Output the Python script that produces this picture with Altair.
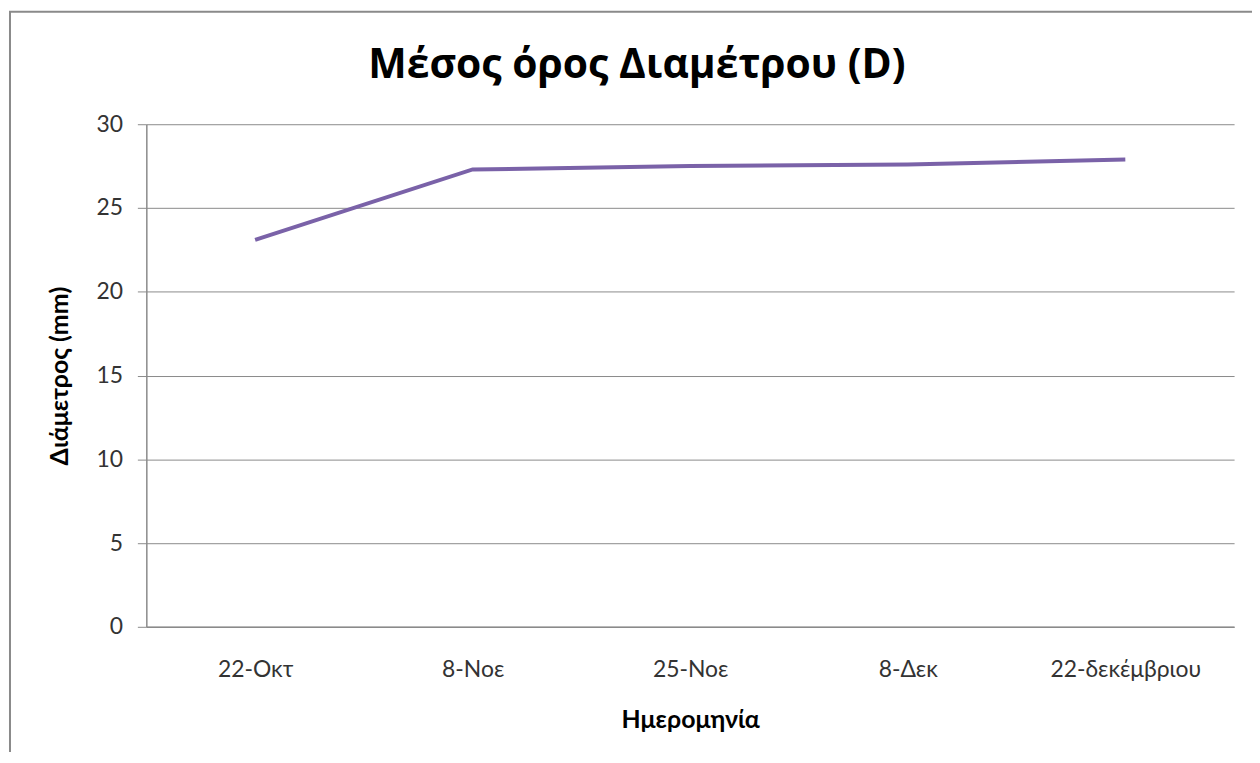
import altair as alt
import pandas as pd

dates = ["22-Οκτ", "8-Νοε", "25-Νοε", "8-Δεκ", "22-δεκέμβριου"]
diameter = [23.1, 27.3, 27.5, 27.6, 27.9]
title_text = ["Μέσος όρος Διαμέτρου (D)"]

df = pd.DataFrame({"date": dates, "d": diameter})

FONT = "Lato"

line = alt.Chart(df).mark_line(color="#7A62A8", strokeWidth=4).encode(
    x=alt.X("date:N", sort=dates, title="Ημερομηνία",
            scale=alt.Scale(type="point", padding=0.5),
            axis=alt.Axis(labelAngle=0, ticks=False, domain=True, domainColor="#8a8a8a",
                          domainWidth=1.5, labelFontSize=23, labelColor="#333333",
                          labelFont=FONT, labelPadding=32, titleFont=FONT,
                          titleFontSize=25, titleFontWeight="bold", titleColor="#000000",
                          titlePadding=26, grid=False)),
    y=alt.Y("d:Q", title="Διάμετρος (mm)",
            scale=alt.Scale(domain=[0, 30], nice=False, zero=True),
            axis=alt.Axis(values=[0, 5, 10, 15, 20, 25, 30], tickSize=9, tickColor="#8a8a8a",
                          domainColor="#8a8a8a", domainWidth=1.5, gridColor="#8a8a8a",
                          gridWidth=1, labelFontSize=23, labelColor="#333333",
                          labelFont=FONT, labelPadding=15, titleFont=FONT,
                          titleFontSize=25, titleFontWeight="bold", titleColor="#000000",
                          titlePadding=24)),
)

border = alt.Chart(pd.DataFrame({"a": [0]})).mark_rect(
    fill=None, stroke="#8a8a8a", strokeWidth=2
).encode(
    x=alt.value(-137), x2=alt.value(1200), y=alt.value(-113), y2=alt.value(700)
)

title = alt.Chart(pd.DataFrame({"t": title_text})).mark_text(
    font="Open Sans", fontSize=41, fontWeight="bold", color="#000000",
    align="center", baseline="alphabetic"
).encode(
    text="t:N", x=alt.value(493), y=alt.value(-46)
)

chart = alt.layer(border, line, title).properties(
    width=1093, height=505,
    padding={"left": 139, "top": 115, "right": 18, "bottom": 124},
    autosize=alt.AutoSizeParams(type="none"),
).configure_view(stroke=None)

chart.save("out.html", embed_options={"renderer": "svg", "actions": False})
